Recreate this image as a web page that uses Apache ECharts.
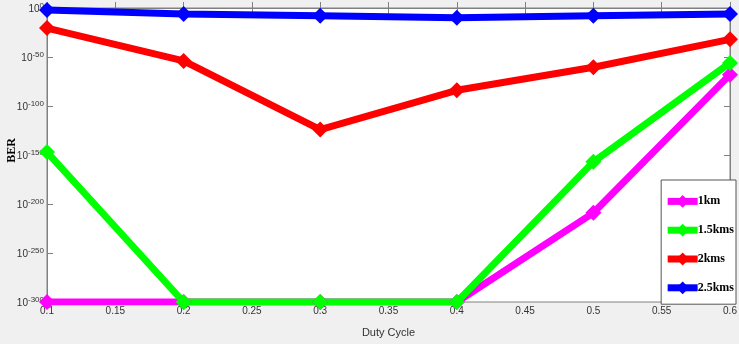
<!DOCTYPE html>
<html>
<head>
<meta charset="UTF-8">
<title>BER vs Duty Cycle</title>
<style>
body{margin:0;background:#f0f0f0;}
#main{width:739px;height:344px;}
</style>
</head>
<body>
<div id="main"></div>
<script src="https://cdn.jsdelivr.net/npm/echarts@6/dist/echarts.min.js"></script>
<script>
// duty cycle values (x axis)
var dutyCycle = [0.1, 0.2, 0.3, 0.4, 0.5, 0.6];
// BER as exponent of 10 (10^value)
var ber1km   = [-300, -300, -300, -300, -209, -68];
var ber15kms = [-147, -300, -300, -300, -157, -56];
var ber2kms  = [-20.5, -54, -124, -84, -60.5, -32];
var ber25kms = [-2, -6, -8, -10, -8, -6];
var seriesNames = ['1km', '1.5kms', '2kms', '2.5kms'];
var seriesColors = ['#ff00ff', '#00ff00', '#ff0000', '#0000ff'];

function pairs(arr){
	var out = [];
	for(var i=0;i<dutyCycle.length;i++){
		out.push([dutyCycle[i], arr[i]]);
	}
	return out;
}

var myChart = echarts.init(document.getElementById('main'));
var allData = [ber1km, ber15kms, ber2kms, ber25kms];
var series = [];
for(var k=0;k<allData.length;k++){
	series.push({
		name: seriesNames[k],
		type: 'line',
		data: pairs(allData[k]),
		symbol: 'diamond',
		symbolSize: 16,
		lineStyle: {width: 7, color: seriesColors[k]},
		itemStyle: {color: seriesColors[k]}
	});
}

var tickText = {color: '#333', fontSize: 10, fontFamily: 'Liberation Sans Narrow, Liberation Sans'};

myChart.setOption({
	backgroundColor: '#f0f0f0',
	animation: false,
	grid: {
		left: 47, right: 9, top: 8, bottom: 42,
		outerBoundsMode: 'none', containLabel: false,
		show: true, backgroundColor: '#ffffff', borderColor: '#808080', borderWidth: 1
	},
	// y axis title, MATLAB style
	graphic: [{
		type: 'text', left: 6, top: 138, rotation: Math.PI / 2,
		style: {text: 'BER', fill: '#000', font: 'bold 12px "Liberation Serif"'}
	}],
	legend: {
		orient: 'vertical',
		right: 3, top: 180,
		itemWidth: 30, itemHeight: 16, itemGap: 16,
		padding: [15, 2, 10, 3],
		backgroundColor: '#ffffff',
		borderColor: '#555', borderWidth: 1,
		lineStyle: {width: 7},
		textStyle: {fontFamily: 'Liberation Serif', fontWeight: 'bold', fontSize: 12, color: '#000', padding: [0,0,0,-5]},
		data: seriesNames
	},
	xAxis: [{
		type: 'value', min: 0.1, max: 0.6, interval: 0.05,
		name: 'Duty Cycle', nameLocation: 'middle', nameGap: 25,
		nameTextStyle: {color: '#333', fontSize: 11, fontFamily: 'Liberation Sans Narrow, Liberation Sans'},
		axisLine: {lineStyle: {color: '#808080'}},
		axisTick: {inside: true, length: 6, lineStyle: {color: '#808080'}},
		axisLabel: Object.assign({margin: 4, formatter: function(v){ return String(Math.round(v*100)/100); }}, tickText),
		splitLine: {show: false}
	}, {
		type: 'value', position: 'top', min: 0.1, max: 0.6, interval: 0.05,
		axisLine: {lineStyle: {color: '#808080'}},
		axisTick: {inside: true, length: 6, lineStyle: {color: '#808080'}},
		axisLabel: {show: false},
		splitLine: {show: false}
	}],
	yAxis: [{
		type: 'value', min: -300, max: 0, interval: 50,
		axisLine: {show: true, lineStyle: {color: '#808080'}},
		axisTick: {inside: true, length: 6, lineStyle: {color: '#808080'}},
		axisLabel: {
			margin: 3,
			formatter: function(v){ return '{b|10}{s|' + v + '}'; },
			rich: {
				b: {color: '#333', fontSize: 10, fontFamily: 'Liberation Sans Narrow, Liberation Sans', verticalAlign: 'bottom', lineHeight: 12},
				s: {color: '#333', fontSize: 8, fontFamily: 'Liberation Sans Narrow, Liberation Sans', verticalAlign: 'top', lineHeight: 12}
			}
		},
		splitLine: {show: false}
	}, {
		type: 'value', position: 'right', min: -300, max: 0, interval: 50,
		axisLine: {show: true, lineStyle: {color: '#808080'}},
		axisTick: {inside: true, length: 6, lineStyle: {color: '#808080'}},
		axisLabel: {show: false},
		splitLine: {show: false}
	}],
	series: series
});
</script>
</body>
</html>
